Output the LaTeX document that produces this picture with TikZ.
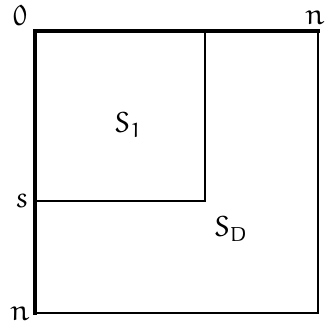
\documentclass[tikz,border=0pt]{standalone}
\DeclareMathAlphabet{\mathEu}{U}{eur}{m}{n}
\newcommand{\eu}[1]{\mathEu{#1}}
\begin{document}
\begin{tikzpicture}[x=0.5pt,y=-0.5pt,
  thinline/.style={line width=0.55pt,black},
  thickline/.style={line width=1.7pt,black,line cap=rect},
  lab/.style={inner sep=0pt,font=\fontsize{14.5}{17}\selectfont}]
\useasboundingbox (0,0) rectangle (325,327);
\coordinate (O) at (35,31);
\coordinate (TR) at (318,31);
\coordinate (BL) at (35,313);
\coordinate (BR) at (318,313);
\coordinate (IS) at (205,201);
\draw[thinline] (O) rectangle (BR);
\draw[thinline] (O) rectangle (IS);
\draw[thickline] (TR) -- (O) -- (BL);
\node[lab] (zero) at (20,15.5) {$\eu{0}$};
\node[lab] (ntop) at (315,18) {$\eu{n}$};
\node[lab] (s) at (22,201) {$\eu{s}$};
\node[lab] (nbot) at (20,314) {$\eu{n}$};
\node[lab] (S1) at (128,125) {$\eu{S}_{\eu{1}}$};
\node[lab] (SD) at (231,229) {$\eu{S}_{\eu{D}}$};
\end{tikzpicture}
\end{document}
